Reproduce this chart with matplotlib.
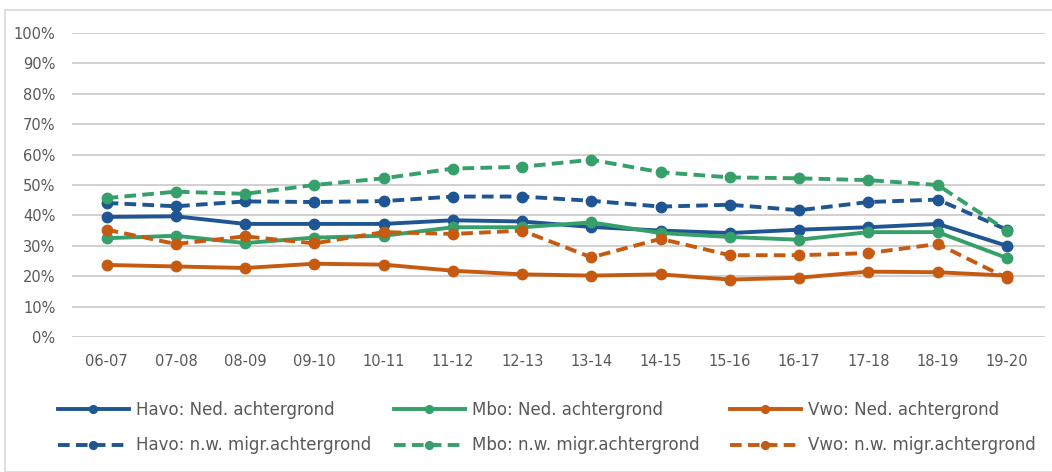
import matplotlib
matplotlib.use("Agg")
import matplotlib.pyplot as plt
from matplotlib.patches import Rectangle
from matplotlib.ticker import PercentFormatter

years = ["06-07", "07-08", "08-09", "09-10", "10-11", "11-12", "12-13",
         "13-14", "14-15", "15-16", "16-17", "17-18", "18-19", "19-20"]

havo_ned = [39.5, 39.7, 37.2, 37.2, 37.2, 38.4, 38.0, 36.2, 35.0, 34.2, 35.3, 36.1, 37.2, 30.0]
mbo_ned = [32.5, 33.3, 30.9, 32.7, 33.3, 36.1, 36.1, 37.7, 34.2, 32.9, 32.0, 34.5, 34.5, 26.0]
vwo_ned = [23.7, 23.2, 22.7, 24.1, 23.8, 21.8, 20.6, 20.2, 20.6, 18.9, 19.5, 21.5, 21.3, 20.2]
havo_migr = [44.1, 43.0, 44.6, 44.4, 44.7, 46.2, 46.2, 44.8, 42.9, 43.5, 41.7, 44.4, 45.2, 35.3]
mbo_migr = [45.7, 47.8, 47.1, 50.0, 52.2, 55.4, 56.0, 58.3, 54.2, 52.5, 52.2, 51.6, 50.0, 35.0]
vwo_migr = [35.3, 30.6, 33.1, 30.8, 34.5, 33.9, 35.0, 26.2, 32.3, 26.9, 26.9, 27.6, 30.6, 19.4]

labels = ["Havo: Ned. achtergrond", "Havo: n.w. migr.achtergrond",
          "Mbo: Ned. achtergrond", "Mbo: n.w. migr.achtergrond",
          "Vwo: Ned. achtergrond", "Vwo: n.w. migr.achtergrond"]

BLUE = "#1F5592"
GREEN = "#35A06A"
ORANGE = "#C65A11"
TXT = "#595959"

W, H = 1052, 472
fig = plt.figure(figsize=(W / 100, H / 100), dpi=100)
ax = fig.add_axes([72 / W, 1 - 337 / H, (1045 - 72) / W, (337 - 33) / H])

x = list(range(len(years)))
series = [
    (havo_ned, BLUE, "-"), (havo_migr, BLUE, "--"),
    (mbo_ned, GREEN, "-"), (mbo_migr, GREEN, "--"),
    (vwo_ned, ORANGE, "-"), (vwo_migr, ORANGE, "--"),
]
order = [0, 2, 4, 1, 3, 5]
handles = [None] * 6
for i in order:
    vals, col, ls = series[i]
    kw = dict(color=col, lw=2.8, marker="o", markersize=7.5, zorder=3)
    if ls == "--":
        kw["dashes"] = (3.0, 1.6)
    line, = ax.plot(x, vals, label=labels[i], **kw)
    handles[i] = line

ax.set_xlim(-0.5, 13.55)
ax.set_ylim(0, 100)
ax.set_yticks(range(0, 101, 10))
ax.yaxis.set_major_formatter(PercentFormatter(decimals=0))
ax.set_xticks(x)
ax.set_xticklabels(years)
ax.grid(axis="y", color="#D0D0D0", lw=1.4)
ax.set_axisbelow(True)
for s in ax.spines.values():
    s.set_visible(False)
ax.tick_params(length=0, labelsize=10.5, colors=TXT)
ax.tick_params(axis="x", pad=12)
ax.tick_params(axis="y", pad=12)

col_x = [58, 394, 730]
for c in range(3):
    leg = fig.legend(handles=handles[2 * c:2 * c + 2], labels=labels[2 * c:2 * c + 2],
                     loc="upper left", bbox_to_anchor=(col_x[c] / W, 1 - 401 / H),
                     frameon=False, borderpad=0, borderaxespad=0,
                     fontsize=12, handlelength=4.25, handletextpad=0.42,
                     labelspacing=1.05, markerscale=0.75)
    for t in leg.get_texts():
        t.set_color(TXT)

fig.patches.append(Rectangle((5 / W, 0), 1.2, 1 - 10 / H, transform=fig.transFigure,
                             fill=False, edgecolor="#D9D9D9", lw=1.2))

fig.savefig("out.png", dpi=100)
